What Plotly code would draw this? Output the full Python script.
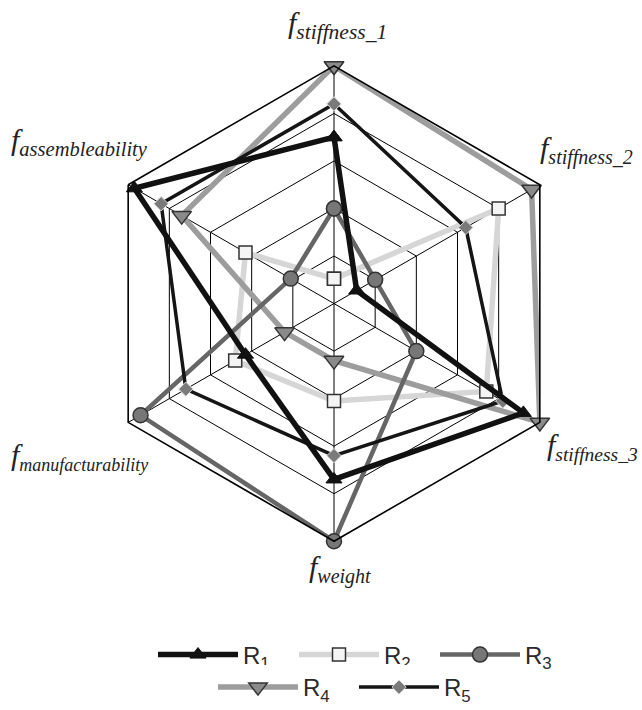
import plotly.graph_objects as go

# Objective axes, clockwise from the top
axes = ["stiffness_1", "stiffness_2", "stiffness_3", "weight",
        "manufacturability", "assembleability"]

# Normalised objective scores (0-5) for each design
R1 = [3.5, 0.55, 4.6, 3.7, 2.15, 4.85]
R2 = [0.52, 4.0, 3.7, 2.05, 2.4, 2.15]
R3 = [2.0, 1.0, 2.0, 5.0, 4.7, 1.05]
R4 = [5.0, 4.8, 5.0, 1.2, 1.2, 3.7]
R5 = [4.2, 3.2, 4.1, 3.2, 3.6, 4.2]

series = {
    "R1": dict(vals=R1, line=dict(color="#111111", width=5.5),
               marker=dict(symbol="triangle-up", size=14, color="#111111",
                           line=dict(color="#111111", width=1)),
               legend="legend", rank=1),
    "R2": dict(vals=R2, line=dict(color="#d6d6d6", width=5.5),
               marker=dict(symbol="square", size=13, color="#f4f4f4",
                           line=dict(color="#333333", width=1.5)),
               legend="legend", rank=2),
    "R3": dict(vals=R3, line=dict(color="#666666", width=4.5),
               marker=dict(symbol="circle", size=15, color="#777777",
                           line=dict(color="#333333", width=1.5)),
               legend="legend", rank=3),
    "R4": dict(vals=R4, line=dict(color="#9d9d9d", width=5.5),
               marker=dict(symbol="triangle-down", size=17, color="#8a8a8a",
                           line=dict(color="#333333", width=1.5)),
               legend="legend2", rank=4),
    "R5": dict(vals=R5, line=dict(color="#151515", width=3.5),
               marker=dict(symbol="diamond", size=11, color="#7a7a7a",
                           line=dict(color="#d8d8d8", width=1)),
               legend="legend2", rank=5),
}

draw_order = ["R2", "R4", "R3", "R5", "R1"]

fig = go.Figure()
for name in draw_order:
    s = series[name]
    vals = s["vals"] + s["vals"][:1]
    fig.add_trace(go.Scatterpolar(
        r=vals, theta=axes + axes[:1], mode="lines+markers",
        name=f"R<sub>{name[1]}</sub>", line=s["line"], marker=s["marker"],
        legend=s["legend"], legendrank=s["rank"], showlegend=True,
    ))

W, H = 642, 710
cx, cy, R = 334, 304, 238

legend_font = dict(family="Liberation Sans, Arial", size=24, color="#2a2a2a")

fig.update_layout(
    width=W, height=H,
    margin=dict(l=0, r=0, t=0, b=0),
    paper_bgcolor="white",
    polar=dict(
        domain=dict(x=[(cx - R) / W, (cx + R) / W],
                    y=[(H - cy - R) / H, (H - cy + R) / H]),
        gridshape="linear",
        bgcolor="white",
        radialaxis=dict(range=[0, 5], tickvals=[1, 2, 3, 4, 5],
                        showticklabels=False, ticks="", showline=False,
                        gridcolor="#000000", gridwidth=1.3),
        angularaxis=dict(rotation=90, direction="clockwise",
                         showticklabels=False, ticks="",
                         linecolor="#000000", linewidth=1.6,
                         gridcolor="#000000", gridwidth=1.3),
    ),
    legend=dict(orientation="h", x=153 / W, xanchor="left", y=(H - 655) / H,
                yanchor="middle", itemwidth=80, entrywidth=46,
                font=legend_font, traceorder="normal"),
    legend2=dict(orientation="h", x=213 / W, xanchor="left", y=(H - 688) / H,
                 yanchor="middle", itemwidth=80, entrywidth=46,
                 font=legend_font, traceorder="normal"),
    showlegend=True,
)

# Axis titles: italic f with the objective name as subscript
label_font = dict(family="Liberation Serif, Times New Roman", size=30, color="#222")
labels = [
    ("stiffness_1", 21.5, 338, 25, "center"),
    ("stiffness_2", 20, 538, 150, "left"),
    ("stiffness_3", 19.5, 545, 447, "left"),
    ("weight", 20, 307, 570, "left"),
    ("manufacturability", 18, 9, 457, "left"),
    ("assembleability", 20.5, 9, 142, "left"),
]
for name, sub_px, x, y, anchor in labels:
    fig.add_annotation(
        text=(f"<i>f</i><sub><span style='font-size:{sub_px}px'>"
              f"<i>{name}</i></span></sub>"),
        x=x / W, y=(H - y) / H, xref="paper", yref="paper",
        xanchor=anchor, yanchor="middle", showarrow=False, font=label_font,
    )

fig.write_html("out.html")
